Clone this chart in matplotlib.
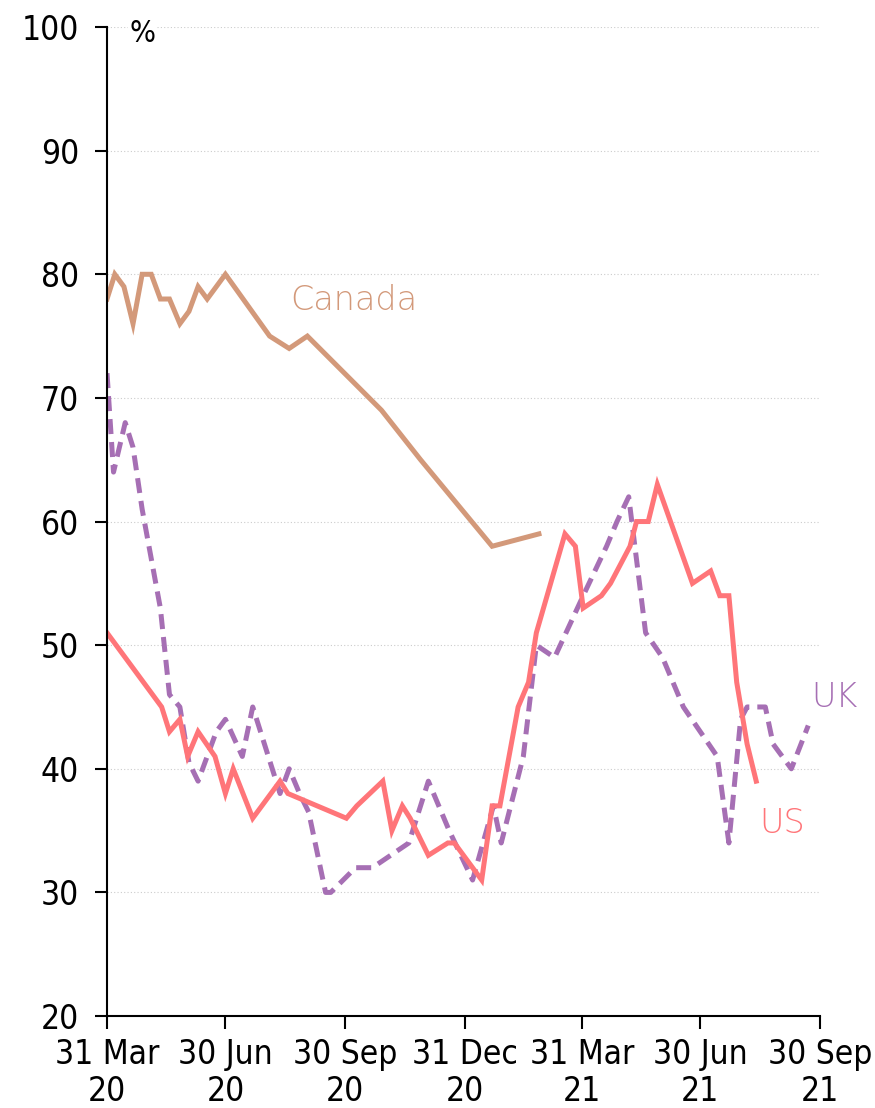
import matplotlib
matplotlib.use("Agg")
import matplotlib.pyplot as plt
import pandas as pd

canada_dates = ["2020-03-31", "2020-04-06", "2020-04-13", "2020-04-20", "2020-04-27",
                "2020-05-04", "2020-05-11", "2020-05-18", "2020-05-26", "2020-06-02",
                "2020-06-09", "2020-06-16", "2020-06-30", "2020-08-03", "2020-08-18",
                "2020-09-01", "2020-10-28", "2020-11-27", "2021-01-21", "2021-02-26"]
canada_vals = [78, 80, 79, 76, 80, 80, 78, 78, 76, 77, 79, 78, 80, 75, 74, 75, 69, 65, 58, 59]

uk_dates = ["2020-03-31", "2020-04-05", "2020-04-14", "2020-04-20", "2020-04-27",
            "2020-05-04", "2020-05-11", "2020-05-18", "2020-05-26", "2020-06-02",
            "2020-06-09", "2020-06-23", "2020-06-30", "2020-07-13", "2020-07-21",
            "2020-08-11", "2020-08-18", "2020-08-26", "2020-09-02", "2020-09-15",
            "2020-09-19", "2020-10-08", "2020-10-21", "2020-11-18", "2020-12-03",
            "2020-12-19", "2021-01-06", "2021-01-22", "2021-01-28", "2021-02-14",
            "2021-02-24", "2021-03-10", "2021-04-01", "2021-04-19", "2021-04-27",
            "2021-05-06", "2021-05-19", "2021-06-01", "2021-06-17", "2021-07-13",
            "2021-07-22", "2021-07-31", "2021-08-05", "2021-08-19", "2021-08-25",
            "2021-09-08", "2021-09-21"]
uk_vals = [72, 64, 68, 66, 61, 57, 53, 46, 45, 40.5, 39, 43, 44, 41, 45,
           38, 40, 38, 36.5, 30, 30, 32, 32, 34, 39, 35, 31, 37, 34, 41,
           50, 49, 54, 58, 60, 62, 51, 49, 45, 41, 34, 44, 45, 45, 42, 40, 43.5]

us_dates = ["2020-03-31", "2020-05-12", "2020-05-18", "2020-05-26", "2020-06-01",
            "2020-06-09", "2020-06-22", "2020-06-30", "2020-07-06", "2020-07-21",
            "2020-08-11", "2020-08-17", "2020-10-01", "2020-10-09", "2020-10-29",
            "2020-11-05", "2020-11-13", "2020-11-19", "2020-12-03", "2020-12-18",
            "2020-12-23", "2021-01-13", "2021-01-21", "2021-01-27", "2021-02-10",
            "2021-02-18", "2021-02-24", "2021-03-18", "2021-03-26", "2021-04-01",
            "2021-04-15", "2021-04-22", "2021-05-07", "2021-05-12", "2021-05-21",
            "2021-05-28", "2021-06-24", "2021-07-08", "2021-07-15", "2021-07-22",
            "2021-07-28", "2021-08-05", "2021-08-12"]
us_vals = [51, 45, 43, 44, 41, 43, 41, 38, 40, 36, 39, 38, 36, 37, 39, 35, 37, 36,
           33, 34, 34, 31, 37, 37, 45, 47, 51, 59, 58, 53, 54, 55, 58, 60, 60, 63,
           55, 56, 54, 54, 47, 42, 39]

tick_dates = ["2020-03-31", "2020-06-30", "2020-09-30", "2020-12-31",
              "2021-03-31", "2021-06-30", "2021-09-30"]
tick_labels = ["31 Mar\n20", "30 Jun\n20", "30 Sep\n20", "31 Dec\n20",
               "31 Mar\n21", "30 Jun\n21", "30 Sep\n21"]
y_ticks = [20, 30, 40, 50, 60, 70, 80, 90, 100]

c_canada = "#D3997A"
c_uk = "#A66FB4"
c_us = "#FF7579"

fig = plt.figure(figsize=(8.75, 11.08), dpi=100)
ax = fig.add_axes([0.1223, 0.083, 0.8148, 0.8926])

ax.plot(pd.to_datetime(canada_dates), canada_vals, color=c_canada, lw=3.6, solid_joinstyle="miter")
ax.plot(pd.to_datetime(uk_dates), uk_vals, color=c_uk, lw=3.6, ls=(0, (3, 1.6)))
ax.plot(pd.to_datetime(us_dates), us_vals, color=c_us, lw=3.6, solid_joinstyle="miter")

ax.set_xlim(pd.Timestamp("2020-03-31"), pd.Timestamp("2021-09-30"))
ax.set_ylim(20, 100)
ax.set_yticks(y_ticks)
ax.set_xticks(pd.to_datetime(tick_dates))
ax.set_xticklabels(tick_labels)
ax.grid(axis="y", color="#cccccc", ls=(0, (1, 2)), lw=0.8)
ax.set_axisbelow(True)
for s in ["top", "right"]:
    ax.spines[s].set_visible(False)
for s in ["left", "bottom"]:
    ax.spines[s].set_linewidth(1.5)
ax.tick_params(axis="both", direction="out", length=9, width=1.5, labelsize=24)
ax.tick_params(axis="y", pad=11)
ax.tick_params(axis="x", pad=7)
for lab in ax.get_xticklabels() + ax.get_yticklabels():
    lab.set_fontfamily("DejaVu Sans")
    lab.set_fontstretch("condensed")
    lab.set_linespacing(1.15)
ax.text(0.032, 1.008, "%", transform=ax.transAxes, fontsize=22, va="top", ha="left",
        fontfamily="DejaVu Sans", fontstretch="condensed",
        bbox=dict(facecolor="white", edgecolor="none", pad=1))

ax.text(pd.Timestamp("2020-08-19"), 77.1, "Canada", color=c_canada, fontsize=24,
        fontfamily="DejaVu Sans", fontweight="light")
ax.text(pd.Timestamp("2021-09-23"), 45.0, "UK", color=c_uk, fontsize=24,
        fontfamily="DejaVu Sans", fontweight="light")
ax.text(pd.Timestamp("2021-08-14"), 34.8, "US", color=c_us, fontsize=24,
        fontfamily="DejaVu Sans", fontweight="light")

fig.savefig("out.png", dpi=100)
